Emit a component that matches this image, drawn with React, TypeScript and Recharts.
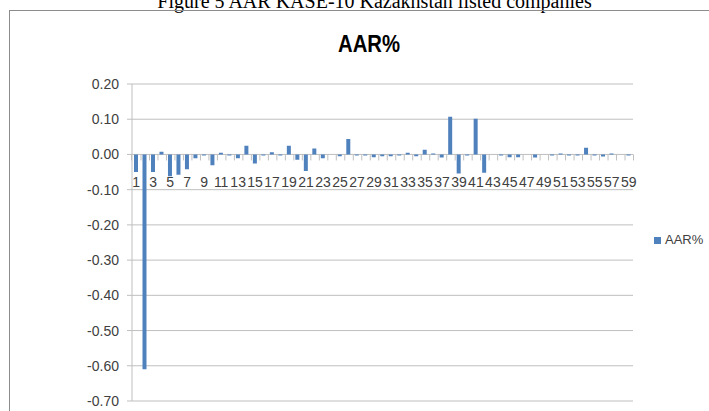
import React from 'react';
import { BarChart, Bar, XAxis, YAxis, CartesianGrid, Legend } from 'recharts';

const figureCaption = 'Figure 5 AAR KASE-10 Kazakhstan listed companies';
const chartTitle = 'AAR%';
const seriesName = 'AAR%';

const categories = [
  '1', '2', '3', '4', '5', '6', '7', '8', '9', '10',
  '11', '12', '13', '14', '15', '16', '17', '18', '19', '20',
  '21', '22', '23', '24', '25', '26', '27', '28', '29', '30',
  '31', '32', '33', '34', '35', '36', '37', '38', '39', '40',
  '41', '42', '43', '44', '45', '46', '47', '48', '49', '50',
  '51', '52', '53', '54', '55', '56', '57', '58', '59',
];

const aarValues = [
  -0.050, -0.610, -0.050, 0.008, -0.062, -0.058, -0.042, -0.011, -0.003, -0.031,
  0.005, -0.003, -0.011, 0.025, -0.026, -0.003, 0.006, -0.003, 0.025, -0.015,
  -0.047, 0.017, -0.011, 0.000, -0.005, 0.044, -0.003, -0.003, -0.008, -0.005,
  -0.005, -0.003, 0.005, -0.005, 0.013, 0.003, -0.009, 0.107, -0.054, -0.003,
  0.101, -0.052, 0.000, -0.003, -0.008, -0.008, 0.000, -0.009, 0.000, -0.003,
  0.003, -0.003, -0.003, 0.019, -0.003, -0.006, 0.003, 0.000, -0.003,
];

const yTicks = [0.2, 0.1, 0, -0.1, -0.2, -0.3, -0.4, -0.5, -0.6, -0.7];

const data = categories.map((c, i) => ({ cat: c, aar: aarValues[i] }));

const W = 709;
const H = 411;
const MARGIN = { top: 84, right: 76, bottom: 0, left: 8 };
const Y_AXIS_W = 64;
const X_AXIS_H = 10;
const Y_MIN = -0.7;
const Y_MAX = 0.2;
const PLOT_W = W - MARGIN.left - MARGIN.right - Y_AXIS_W;
const PLOT_H = H - MARGIN.top - MARGIN.bottom - X_AXIS_H;
const BAND = PLOT_W / categories.length;
const ZERO_UP = (PLOT_H * (0 - Y_MIN)) / (Y_MAX - Y_MIN);

const GRID = '#BFBFBF';
const TEXT = '#404040';
const BAR = '#4F81BD';
const FONT = "'Liberation Sans', Arial, sans-serif";

function CatTick(props: any) {
  const { x, y, payload, index } = props;
  const zy = y - ZERO_UP;
  const showLabel = index % 2 === 0;
  return (
    <g>
      {index === 0 && (
        <line x1={x - BAND / 2} x2={x - BAND / 2} y1={zy} y2={zy + 6} stroke={GRID} />
      )}
      <line x1={x + BAND / 2} x2={x + BAND / 2} y1={zy} y2={zy + 6} stroke={GRID} />
      {showLabel && (
        <text x={x} y={zy + 33} textAnchor="middle" fill={TEXT} fontSize={14} fontFamily={FONT}>
          {payload.value}
        </text>
      )}
    </g>
  );
}

export default function App() {
  return (
    <div
      style={{
        position: 'absolute',
        left: 0,
        top: 0,
        width: W,
        height: H,
        overflow: 'hidden',
        background: '#fff',
      }}
    >
      <div
        style={{
          position: 'absolute',
          left: 0,
          top: -9,
          width: 749,
          textAlign: 'center',
          fontFamily: "'Liberation Serif', 'Times New Roman', serif",
          fontSize: 20,
          lineHeight: '20px',
          color: '#000',
          whiteSpace: 'nowrap',
        }}
      >
        {figureCaption}
      </div>
      <div
        style={{
          position: 'absolute',
          left: 9,
          top: 10,
          width: 800,
          height: 600,
          border: '1px solid #8C8C8C',
          boxSizing: 'border-box',
        }}
      />
      <svg
        width={W}
        height={70}
        style={{ position: 'absolute', left: 0, top: 0 }}
      >
        <text
          x={369}
          y={52}
          textAnchor="middle"
          fontFamily={FONT}
          fontWeight="bold"
          fontSize={24}
          textLength={62}
          lengthAdjust="spacingAndGlyphs"
          fill="#000"
        >
          {chartTitle}
        </text>
      </svg>
      <div style={{ position: 'absolute', left: 0, top: 0 }}>
        <BarChart width={W} height={H} data={data} margin={MARGIN}>
          <CartesianGrid vertical={false} stroke={GRID} />
          <XAxis
            dataKey="cat"
            height={X_AXIS_H}
            axisLine={false}
            tickLine={false}
            tickSize={0}
            tickMargin={0}
            interval={0}
            tick={(p: any) => <CatTick {...p} />}
          />
          <YAxis
            width={Y_AXIS_W}
            domain={[Y_MIN, Y_MAX]}
            ticks={yTicks}
            interval={0}
            allowDataOverflow
            axisLine={{ stroke: GRID }}
            tickLine={{ stroke: GRID }}
            tickSize={5}
            tickMargin={8}
            tick={{ fill: TEXT, fontSize: 14, fontFamily: FONT }}
            tickFormatter={(v: number) => v.toFixed(2)}
          />
          <Legend
            layout="horizontal"
            align="left"
            verticalAlign="middle"
            iconType="square"
            iconSize={7}
            wrapperStyle={{
              left: 654,
              top: 233,
              width: 60,
              fontSize: 13,
              fontFamily: FONT,
              lineHeight: '14px',
            }}
            formatter={(v: string) => <span style={{ color: TEXT }}>{v}</span>}
          />
          <Bar dataKey="aar" name={seriesName} fill={BAR} barSize={4} isAnimationActive={false} />
        </BarChart>
      </div>
    </div>
  );
}
